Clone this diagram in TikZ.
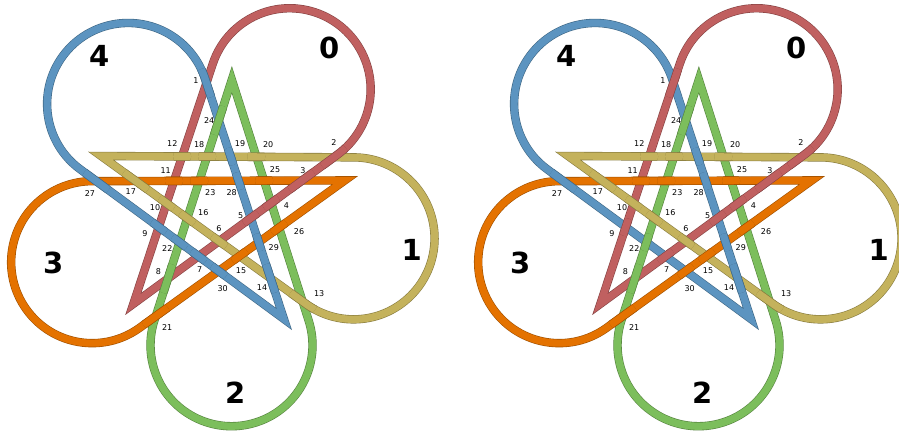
\documentclass[tikz,border=0pt]{standalone}
\usepackage{fontspec}
\setmainfont{DejaVu Sans}
\definecolor{cR}{HTML}{C06060}
\definecolor{cY}{HTML}{C4B25C}
\definecolor{cG}{HTML}{7CBE5C}
\definecolor{cO}{HTML}{E47200}
\definecolor{cB}{HTML}{5C94C0}
\tikzset{
  tube/.style={draw=#1!70!black, double=#1, double distance=7.2pt, line width=0.6pt, line join=miter, miter limit=10},
  lab/.style={font=\fontsize{8}{9}\selectfont, inner sep=0pt},
  big/.style={font=\fontsize{29}{30}\selectfont\bfseries, inner sep=0pt}
}
\newcommand\tear[2]{\begin{scope}[shift={(#1:138)},rotate=#1-5.27]
 \draw[tube=#2] (-265.5,0) -- (107.76:81) arc[start angle=107.76,end angle=-107.76,radius=81] -- cycle;
\end{scope}}
\newcommand\LR{\tear{59.2}{cR}}
\newcommand\LB{\tear{131.2}{cB}}
\newcommand\LO{\tear{203.2}{cO}}
\newcommand\LG{\tear{275.2}{cG}}
\newcommand\LY{\tear{347.2}{cY}}
\newcommand\X[4]{\begin{scope}\clip (#1,#2) circle (#3); #4\end{scope}}
\newcommand\labels{%
 \node[lab] (n1) at (196,352) {1};
 \node[lab] (n2) at (334,290) {2};
 \node[lab] (n3) at (303,262) {3};
 \node[lab] (n4) at (286.3,227.3) {4};
 \node[lab] (n5) at (240.7,217.7) {5};
 \node[lab] (n6) at (219,204.3) {6};
 \node[lab] (n7) at (199.7,163.7) {7};
 \node[lab] (n8) at (158.3,161) {8};
 \node[lab] (n9) at (145,199.7) {9};
 \node[lab] (n10) at (155,225.7) {10};
 \node[lab] (n11) at (165.7,262.3) {11};
 \node[lab] (n12) at (172.3,289) {12};
 \node[lab] (n13) at (319.2,139.5) {13};
 \node[lab] (n14) at (262,145.3) {14};
 \node[lab] (n15) at (241,162) {15};
 \node[lab] (n16) at (203.3,220) {16};
 \node[lab] (n17) at (130.8,241.6) {17};
 \node[lab] (n18) at (199.2,288.8) {18};
 \node[lab] (n19) at (240,289) {19};
 \node[lab] (n20) at (268.2,288.8) {20};
 \node[lab] (n21) at (167.2,105.5) {21};
 \node[lab] (n22) at (167.3,184) {22};
 \node[lab] (n23) at (210.3,240) {23};
 \node[lab] (n24) at (209.2,312.2) {24};
 \node[lab] (n25) at (275,263.8) {25};
 \node[lab] (n26) at (299,201.6) {26};
 \node[lab] (n27) at (90,239.3) {27};
 \node[lab] (n28) at (231.7,240) {28};
 \node[lab] (n29) at (273.8,185.3) {29};
 \node[lab] (n30) at (222.7,144.7) {30};
 \node[big] (s4) at (99.3,377) {4};
 \node[big] (s0) at (329.3,385) {0};
 \node[big] (s1) at (411.7,183) {1};
 \node[big] (s3) at (53.3,170) {3};
 \node[big] (s2) at (235.3,40) {2};
}
\begin{document}
\begin{tikzpicture}[x=1pt,y=1pt]
\useasboundingbox (0,0) rectangle (899,433);
\clip (0,0) rectangle (899,433);
\fill[white] (0,0) rectangle (899,433);
% ---------- left diagram ----------
\begin{scope}[shift={(219,225.2)}]
 \LG \LR \LO \LY \LB
 \X{-12.5}{124.8}{15}{\LB}  % 1
 \X{115}{50.5}{15}{\LR}     % 2
 \X{82.5}{26.8}{15}{\LR}    % 3
 \X{52.2}{4.7}{9}{\LR}      % 4
 \X{31.8}{-10.3}{9}{\LR}    % 5
 \X{0.1}{-33.4}{9}{\LY}     % 6
 \X{-20.5}{-48.5}{9}{\LB}   % 7
 \X{-51.2}{-70.9}{15}{\LG}  % 8
 \X{-60.3}{-19.3}{9}{\LB}   % 9
 \X{-52.4}{4.5}{9}{\LY}     % 10
 \X{-45}{26.8}{9}{\LO}      % 11
 \X{-36.9}{51.3}{9}{\LY}    % 12
 \X{83.6}{-93.7}{15}{\LY}   % 13
 \X{51.6}{-70.6}{15}{\LB}   % 14
 \X{20.7}{-48.2}{9}{\LO}    % 15
 \X{-31.7}{-10.4}{9}{\LY}   % 16
 \X{-83.2}{26.8}{15}{\LY}   % 17
 \X{-11.9}{51.3}{9}{\LY}    % 18
 \X{11.6}{51.3}{9}{\LB}     % 19
 \X{37.3}{51.3}{9}{\LY}     % 20
 \X{-63.3}{-108.6}{15}{\LO} % 21
 \X{-39.5}{-34.5}{9}{\LB}   % 22
 \X{-19.8}{26.8}{9}{\LO}    % 23
 \X{-0.3}{87.4}{15}{\LG}    % 24
 \X{45.1}{26.8}{9}{\LO}     % 25
 \X{60.1}{-19.9}{9}{\LO}    % 26
 \X{-122.7}{26.6}{15}{\LB}  % 27
 \X{19.6}{26.8}{9}{\LB}     % 28
 \X{39.8}{-34.5}{9}{\LB}    % 29
 \X{-0.3}{-63.3}{9}{\LB}    % 30
\end{scope}
\begin{scope}[name prefix=L-]\labels\end{scope}
% ---------- right diagram ----------
\begin{scope}[shift={(686,225.2)}]
 \LG \LR \LO \LY \LB
 \X{-12.5}{124.8}{15}{\LR}  % 1
 \X{115}{50.5}{15}{\LR}     % 2
 \X{82.5}{26.8}{15}{\LR}    % 3
 \X{52.2}{4.7}{9}{\LR}      % 4
 \X{31.8}{-10.3}{9}{\LR}    % 5
 \X{0.1}{-33.4}{9}{\LY}     % 6
 \X{-20.5}{-48.5}{9}{\LR}   % 7
 \X{-51.2}{-70.9}{15}{\LG}  % 8
 \X{-60.3}{-19.3}{9}{\LR}   % 9
 \X{-52.4}{4.5}{9}{\LY}     % 10
 \X{-45}{26.8}{9}{\LO}      % 11
 \X{-36.9}{51.3}{9}{\LY}    % 12
 \X{83.6}{-93.7}{15}{\LY}   % 13
 \X{51.6}{-70.6}{15}{\LB}   % 14
 \X{20.7}{-48.2}{9}{\LO}    % 15
 \X{-31.7}{-10.4}{9}{\LY}   % 16
 \X{-83.2}{26.8}{15}{\LY}   % 17
 \X{-11.9}{51.3}{9}{\LY}    % 18
 \X{11.6}{51.3}{9}{\LB}     % 19
 \X{37.3}{51.3}{9}{\LY}     % 20
 \X{-63.3}{-108.6}{15}{\LO} % 21
 \X{-39.5}{-34.5}{9}{\LG}   % 22
 \X{-19.8}{26.8}{9}{\LO}    % 23
 \X{-0.3}{87.4}{15}{\LG}    % 24
 \X{45.1}{26.8}{9}{\LO}     % 25
 \X{60.1}{-19.9}{9}{\LO}    % 26
 \X{-122.7}{26.6}{15}{\LB}  % 27
 \X{19.6}{26.8}{9}{\LB}     % 28
 \X{39.8}{-34.5}{9}{\LB}    % 29
 \X{-0.3}{-63.3}{9}{\LO}    % 30
\end{scope}
\begin{scope}[xshift=467pt,name prefix=R-]\labels\end{scope}
\end{tikzpicture}
\end{document}
